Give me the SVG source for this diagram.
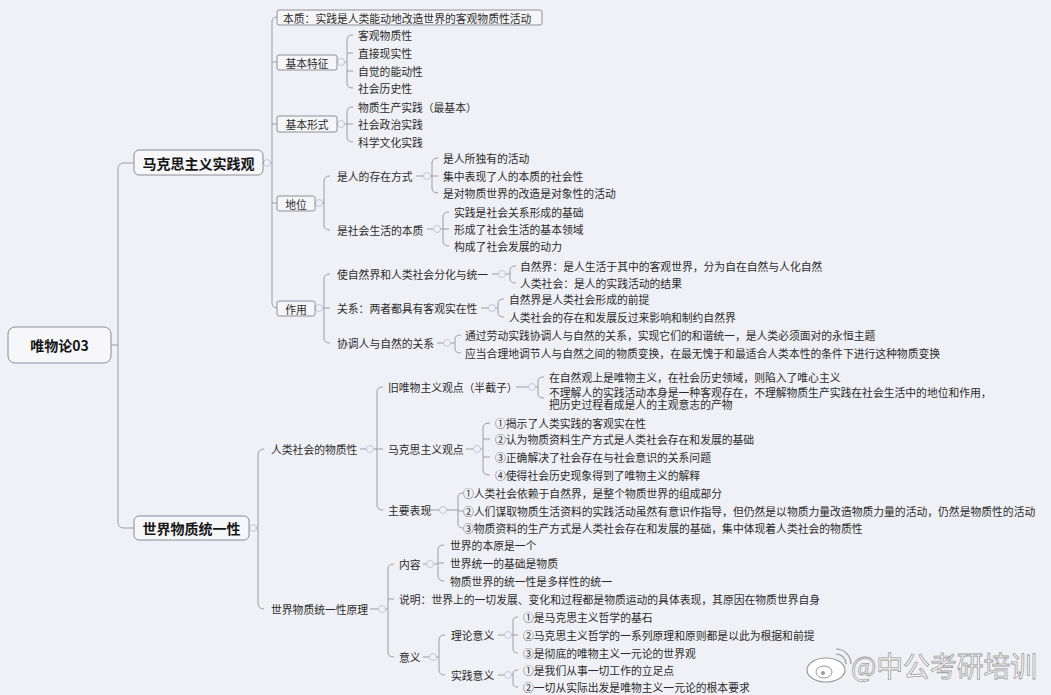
<svg xmlns="http://www.w3.org/2000/svg" width="1051" height="695" viewBox="0 0 1051 695">
<style>
.t{font-family:"Noto Sans CJK SC","Liberation Sans",sans-serif;font-size:10.8px;fill:#2b2b2b;dominant-baseline:central}
.m{font-family:"Noto Sans CJK SC","Liberation Sans",sans-serif;font-size:14px;font-weight:bold;fill:#151515;dominant-baseline:central;text-anchor:middle}
.c{text-anchor:middle}
.ln{fill:none;stroke:#9c9ca4;stroke-width:1}
.bx{fill:#f6f6f9;stroke:#8e8e98;stroke-width:1}
.mb{fill:#f7f7fa;stroke:#8a8a96;stroke-width:1}
.ind{fill:#f0f1f6;stroke:#c4c7d8;stroke-width:1}
</style>
<rect width="1051" height="695" fill="#f0f1f6"/>
<g id="connectors" class="ln">
<path d="M111,345 H118 M134,163 H124 Q118,163 118,169 V522 Q118,528 124,528 H134"/>
<path d="M263,163 H272 M277,17 Q272,17 272,22 V303 Q272,308 277,308 M272,62 H277 M272,124 H277 M272,203 H277"/>
<path d="M249,528 H258 M264,449 Q258,449 258,455 V603 Q258,609 264,609"/>
<path d="M337,62 H347 M353,35 Q347,35 347,40 V83 Q347,88 353,88 M347,53 H353 M347,71 H353"/>
<path d="M337,124 H347 M353,107 Q347,107 347,112 V137 Q347,142 353,142 M347,124 H353"/>
<path d="M315,203 H324 M330,176 Q324,176 324,181 V225 Q324,230 330,230"/>
<path d="M416,176 H432 M438,158 Q432,158 432,163 V188 Q432,193 438,193 M432,176 H438"/>
<path d="M427,229 H443 M449,212 Q443,212 443,217 V241 Q443,246 449,246 M443,229 H449"/>
<path d="M315,308 H324 M330,274 Q324,274 324,279 V338 Q324,343 330,343 M324,308 H330"/>
<path d="M492,274 H510 M516,266 Q510,266 510,270 V279 Q510,283 516,283"/>
<path d="M481,308 H498 M504,299 Q498,299 498,303 V313 Q498,317 504,317"/>
<path d="M437,343 H455 M461,335 Q455,335 455,339 V349 Q455,353 461,353"/>
<path d="M360,449 H377 M383,387 Q377,387 377,392 V505 Q377,510 383,510 M377,449 H383"/>
<path d="M516,387 H538 M544,377 Q538,377 538,381 V394 Q538,398 544,398"/>
<path d="M466,449 H483 M490,423 Q483,423 483,428 V470 Q483,475 490,475 M483,439 H490 M483,457 H490"/>
<path d="M423,510 H458 M463,493 Q458,493 458,497 V524 Q458,528 463,528 M458,511 H463"/>
<path d="M370,609 H388 M394,564 Q388,564 388,569 V652 Q388,657 394,657 M388,599 H394"/>
<path d="M423,564 H438 M444,545 Q438,545 438,550 V576 Q438,581 444,581 M438,563 H444"/>
<path d="M423,657 H439 M445,635 Q439,635 439,640 V670 Q439,675 445,675"/>
<path d="M498,635 H513 M518,617 Q513,617 513,621 V649 Q513,653 518,653 M513,635 H518"/>
<path d="M498,675 H513 M518,670 Q513,670 513,673 V684 Q513,687 518,687"/>
</g>
<g id="indicators">
<circle class="ind" cx="267" cy="163" r="3.5"/><circle class="ind" cx="253" cy="528" r="3.5"/>
<circle class="ind" cx="341" cy="62" r="3.5"/><circle class="ind" cx="341" cy="124" r="3.5"/>
<circle class="ind" cx="319" cy="203" r="3.5"/><circle class="ind" cx="319" cy="308" r="3.5"/>
<circle class="ind" cx="427" cy="176" r="3.5"/><circle class="ind" cx="437" cy="229" r="3.5"/>
<circle class="ind" cx="502" cy="274" r="3.5"/><circle class="ind" cx="492" cy="308" r="3.5"/>
<circle class="ind" cx="447" cy="343" r="3.5"/><circle class="ind" cx="370" cy="449" r="3.5"/>
<circle class="ind" cx="532" cy="387" r="3.5"/><circle class="ind" cx="477" cy="449" r="3.5"/>
<circle class="ind" cx="443" cy="510" r="3.5"/><circle class="ind" cx="382" cy="609" r="3.5"/>
<circle class="ind" cx="430" cy="564" r="3.5"/><circle class="ind" cx="433" cy="657" r="3.5"/>
<circle class="ind" cx="508" cy="635" r="3.5"/><circle class="ind" cx="508" cy="675" r="3.5"/>
</g>
<g id="root"><rect class="mb" x="8" y="327" width="103" height="36" rx="7"/><text class="m" x="59.5" y="345">唯物论03</text></g>
<g id="n-mks"><rect class="mb" x="134" y="150" width="129" height="25" rx="5"/><text class="m" x="198.5" y="162.5">马克思主义实践观</text></g>
<g id="n-sj"><rect class="mb" x="134" y="516" width="115" height="24" rx="5"/><text class="m" x="191.5" y="528">世界物质统一性</text></g>
<g id="n-bz"><rect class="bx" x="277" y="10" width="265" height="15" rx="2"/><text class="t" x="283" y="17.5">本质：实践是人类能动地改造世界的客观物质性活动</text></g>
<g id="n-tz"><rect class="bx" x="277" y="55" width="60" height="15" rx="2"/><text class="t c" x="307" y="62.5">基本特征</text></g>
<g id="n-xs"><rect class="bx" x="277" y="116" width="60" height="16" rx="2"/><text class="t c" x="307" y="124">基本形式</text></g>
<g id="n-dw"><rect class="bx" x="277" y="196" width="38" height="15" rx="2"/><text class="t c" x="296" y="203.5">地位</text></g>
<g id="n-zy"><rect class="bx" x="277" y="301" width="38" height="15" rx="2"/><text class="t c" x="296" y="308.5">作用</text></g>
<g id="n-tz-c">
<text class="t" x="358" y="35">客观物质性</text><text class="t" x="358" y="53">直接现实性</text><text class="t" x="358" y="71">自觉的能动性</text><text class="t" x="358" y="88">社会历史性</text>
</g>
<g id="n-xs-c">
<text class="t" x="358" y="107">物质生产实践（最基本）</text><text class="t" x="358" y="124">社会政治实践</text><text class="t" x="358" y="142">科学文化实践</text>
</g>
<g id="n-dw-c"><text class="t" x="337" y="176">是人的存在方式</text><text class="t" x="337" y="230">是社会生活的本质</text></g>
<g id="n-cz-c">
<text class="t" x="443" y="158">是人所独有的活动</text><text class="t" x="443" y="176">集中表现了人的本质的社会性</text><text class="t" x="443" y="193">是对物质世界的改造是对象性的活动</text>
</g>
<g id="n-shbz-c">
<text class="t" x="454" y="212">实践是社会关系形成的基础</text><text class="t" x="454" y="229">形成了社会生活的基本领域</text><text class="t" x="454" y="246">构成了社会发展的动力</text>
</g>
<g id="n-zy-c">
<text class="t" x="337" y="274">使自然界和人类社会分化与统一</text><text class="t" x="337" y="308">关系：两者都具有客观实在性</text><text class="t" x="337" y="343">协调人与自然的关系</text>
</g>
<g id="n-fh-c"><text class="t" x="520" y="266">自然界：是人生活于其中的客观世界，分为自在自然与人化自然</text><text class="t" x="520" y="283">人类社会：是人的实践活动的结果</text></g>
<g id="n-gx-c"><text class="t" x="509" y="299">自然界是人类社会形成的前提</text><text class="t" x="509" y="317">人类社会的存在和发展反过来影响和制约自然界</text></g>
<g id="n-xt-c"><text class="t" x="465" y="335">通过劳动实践协调人与自然的关系，实现它们的和谐统一，是人类必须面对的永恒主题</text><text class="t" x="465" y="353">应当合理地调节人与自然之间的物质变换，在最无愧于和最适合人类本性的条件下进行这种物质变换</text></g>
<g id="n-sj-c"><text class="t" x="271" y="449">人类社会的物质性</text><text class="t" x="271" y="609">世界物质统一性原理</text></g>
<g id="n-rl-c"><text class="t" x="388" y="387">旧唯物主义观点（半截子）</text><text class="t" x="388" y="449">马克思主义观点</text><text class="t" x="388" y="510">主要表现</text></g>
<g id="n-jw-c"><text class="t" x="549" y="377">在自然观上是唯物主义，在社会历史领域，则陷入了唯心主义</text><text class="t" x="549" y="391.5">不理解人的实践活动本身是一种客观存在，不理解物质生产实践在社会生活中的地位和作用，</text><text class="t" x="549" y="403.5">把历史过程看成是人的主观意志的产物</text></g>
<g id="n-mg-c">
<text class="t" x="495" y="423">①揭示了人类实践的客观实在性</text><text class="t" x="495" y="439">②认为物质资料生产方式是人类社会存在和发展的基础</text><text class="t" x="495" y="457">③正确解决了社会存在与社会意识的关系问题</text><text class="t" x="495" y="475">④使得社会历史现象得到了唯物主义的解释</text>
</g>
<g id="n-bx-c">
<text class="t" x="463" y="493">①人类社会依赖于自然界，是整个物质世界的组成部分</text><text class="t" x="463" y="511">②人们谋取物质生活资料的实践活动虽然有意识作指导，但仍然是以物质力量改造物质力量的活动，仍然是物质性的活动</text><text class="t" x="463" y="528">③物质资料的生产方式是人类社会存在和发展的基础，集中体现着人类社会的物质性</text>
</g>
<g id="n-yl-c"><text class="t" x="399" y="564">内容</text><text class="t" x="399" y="599">说明：世界上的一切发展、变化和过程都是物质运动的具体表现，其原因在物质世界自身</text><text class="t" x="399" y="657">意义</text></g>
<g id="n-nr-c"><text class="t" x="450" y="545">世界的本原是一个</text><text class="t" x="450" y="563">世界统一的基础是物质</text><text class="t" x="450" y="581">物质世界的统一性是多样性的统一</text></g>
<g id="n-yy-c"><text class="t" x="451" y="635">理论意义</text><text class="t" x="451" y="675">实践意义</text></g>
<g id="n-ll-c"><text class="t" x="523" y="617">①是马克思主义哲学的基石</text><text class="t" x="523" y="635">②马克思主义哲学的一系列原理和原则都是以此为根据和前提</text><text class="t" x="523" y="653">③是彻底的唯物主义一元论的世界观</text></g>
<g id="n-sjyy-c"><text class="t" x="523" y="670">①是我们从事一切工作的立足点</text><text class="t" x="523" y="687">②一切从实际出发是唯物主义一元论的根本要求</text></g>
<g id="watermark">
<ellipse cx="826" cy="670" rx="19" ry="12" fill="#ffffff" stroke="#9a9a9a" stroke-width="1.2"/>
<ellipse cx="824" cy="672" rx="8" ry="6" fill="none" stroke="#9a9a9a" stroke-width="1"/>
<circle cx="823" cy="673" r="2" fill="#9a9a9a"/>
<path d="M836,654 A10,10 0 0 1 846,664 M836,649 A15,15 0 0 1 851,664" fill="none" stroke="#9a9a9a" stroke-width="1.2"/>
<text x="851" y="677" font-family="'Noto Sans CJK SC',sans-serif" font-size="28" fill="#ffffff" stroke="#9a9a9a" stroke-width="0.8" textLength="186" lengthAdjust="spacingAndGlyphs">@中公考研培训</text>
</g>
</svg>
